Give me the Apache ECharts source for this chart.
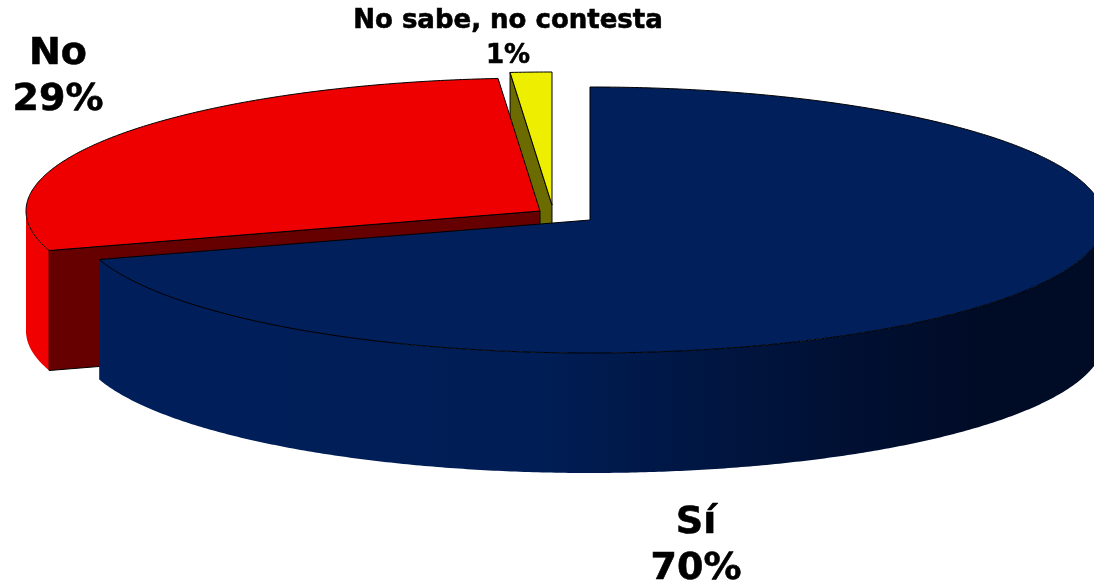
<!DOCTYPE html>
<html>
<head>
<meta charset="utf-8">
<style>html,body{margin:0;padding:0;background:#fff}#c{width:1094px;height:584px}</style>
<script src="https://cdn.jsdelivr.net/npm/echarts@6/dist/echarts.min.js"></script>
</head>
<body>
<div id="c"></div>
<script>
var categories = ['Sí', 'No', 'No sabe, no contesta'];
var values = [70.2, 28.5, 1.3];
var percentLabels = ['70%', '29%', '1%'];

// Appearance and layout of the tilted pie
var topColors = ['#001f5b', '#ee0000', '#eeee00'];
var faceColors = ['#001040', '#660000', '#6b6b00'];
var wallColors = ['#001f5b', '#f00000', '#eeee00'];
var centers = [[590, 220], [540, 211], [552, 205]];
var labelBoxes = [[696, 546, 38, 46], [58, 77, 38, 46], [508, 39, 26, 35]];
var drawOrder = [2, 1, 0];
var RX = 514, RY = 133, DEPTH = 120;

var starts = [];
var total = values.reduce(function (a, b) { return a + b; }, 0);
values.reduce(function (acc, v, i) { starts[i] = acc; return acc + v; }, 0);

function pt(c, deg, dy) {
  var r = deg * Math.PI / 180;
  return [c[0] + RX * Math.sin(r), c[1] - RY * Math.cos(r) + (dy || 0)];
}
function arc(c, a0, a1, dy) {
  var pts = [], n = Math.max(2, Math.ceil(Math.abs(a1 - a0) * 2));
  for (var i = 0; i <= n; i++) pts.push(pt(c, a0 + (a1 - a0) * i / n, dy));
  return pts;
}
function renderItem(params, api) {
  var idx = api.value(0);
  var a0 = api.value(1) / total * 360;
  var a1 = a0 + api.value(2) / total * 360;
  var c = centers[idx];
  var children = [];

  // outer wall: only the front half of the rim (90..270 degrees) is visible
  var w0 = Math.max(a0, 90), w1 = Math.min(a1, 270);
  if (w1 > w0) {
    var fill = wallColors[idx];
    if (idx === 0) {
      fill = new echarts.graphic.LinearGradient(c[0] - RX, 0, c[0] + RX, 0, [
        { offset: 0, color: '#001f5b' },
        { offset: 0.45, color: '#001d55' },
        { offset: 0.7, color: '#001238' },
        { offset: 0.88, color: '#000b26' },
        { offset: 1, color: '#000b26' }
      ], true);
    }
    children.push({
      type: 'polygon',
      shape: { points: arc(c, w0, w1, 0).concat(arc(c, w1, w0, DEPTH)) },
      style: { fill: fill, stroke: null }
    });
  }
  // cut faces that look towards the viewer
  function face(deg) {
    var o = pt(c, deg, 0), o2 = pt(c, deg, DEPTH);
    children.push({
      type: 'polygon',
      shape: { points: [c, o, o2, [c[0], c[1] + DEPTH]] },
      style: { fill: faceColors[idx], stroke: '#000', lineWidth: 1, lineJoin: 'round' }
    });
  }
  if (Math.sin(a0 * Math.PI / 180) < -1e-6) face(a0);
  if (Math.sin(a1 * Math.PI / 180) > 1e-6) face(a1);

  // top surface
  children.push({
    type: 'polygon',
    shape: { points: [c].concat(arc(c, a0, a1, 0)) },
    style: { fill: topColors[idx], stroke: '#000', lineWidth: 1, lineJoin: 'round' }
  });
  return { type: 'group', children: children };
}

var labelData = categories.map(function (name, i) {
  return [i];
});
function renderLabel(params, api) {
  var i = api.value(0), box = labelBoxes[i];
  return {
    type: 'text',
    style: {
      x: box[0], y: box[1],
      text: categories[i] + '\n' + percentLabels[i],
      fill: '#000',
      stroke: '#000',
      lineWidth: 0.6,
      font: 'bold ' + box[2] + 'px "DejaVu Sans"',
      lineHeight: box[3],
      align: 'center',
      verticalAlign: 'middle'
    }
  };
}

var chart = echarts.init(document.getElementById('c'), null, { renderer: 'canvas' });
chart.setOption({
  animation: false,
  backgroundColor: '#fff',
  series: [
    {
      type: 'custom',
      coordinateSystem: 'none',
      silent: true,
      renderItem: renderItem,
      data: drawOrder.map(function (i) { return [i, starts[i], values[i]]; })
    },
    {
      type: 'custom',
      coordinateSystem: 'none',
      silent: true,
      renderItem: renderLabel,
      data: labelData
    }
  ]
});
</script>
</body>
</html>
